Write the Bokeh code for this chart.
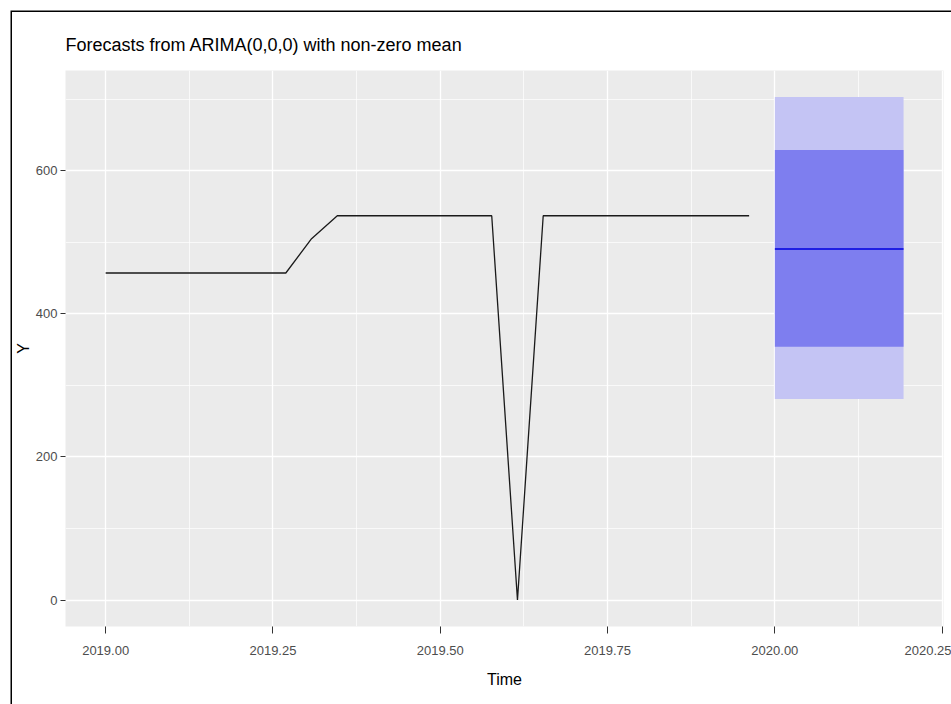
from bokeh.plotting import figure
from bokeh.models import FixedTicker, ColumnDataSource
from bokeh.embed import file_html
from bokeh.resources import INLINE

# ---- data ----
start = 2019.0
freq = 26
values = [457, 457, 457, 457, 457, 457, 457, 457, 505, 537, 537, 537, 537, 537,
          537, 537, 0, 537, 537, 537, 537, 537, 537, 537, 537, 537]
fc_start = 2020.0
fc_mean = [490.5, 490.5, 490.5, 490.5, 490.5, 490.5]
fc_lo80 = [354, 354, 354, 354, 354, 354]
fc_hi80 = [629, 629, 629, 629, 629, 629]
fc_lo95 = [281, 281, 281, 281, 281, 281]
fc_hi95 = [703, 703, 703, 703, 703, 703]

x_ticks = [2019.00, 2019.25, 2019.50, 2019.75, 2020.00, 2020.25]
x_tick_labels = ["2019.00", "2019.25", "2019.50", "2019.75", "2020.00", "2020.25"]
x_minor = [2019.125, 2019.375, 2019.625, 2019.875, 2020.125]
y_ticks = [0, 200, 400, 600]
y_tick_labels = ["0", "200", "400", "600"]
y_minor = [100, 300, 500, 700]

title = "Forecasts from ARIMA(0,0,0) with non-zero mean"
x_label = "Time"
y_label = "Y"

time = [start + i / freq for i in range(len(values))]
fc_time = [fc_start + i / freq for i in range(len(fc_mean))]

FONT = "Liberation Sans"

p = figure(width=951, height=704, output_backend="svg", toolbar_location=None,
           x_range=(2018.94, 2020.252), y_range=(-37, 740),
           min_border_left=65, min_border_right=8, min_border_top=70, min_border_bottom=78,
           title=title)

p.background_fill_color = "#EBEBEB"
p.border_fill_color = None
p.outline_line_color = None
# thin frame line of the original image (left and top edges only visible)
p.styles = {"box-shadow": "inset 10.5px 10.5px 0 0 #ffffff, inset 12px 12px 0 0 #000000",
            "background-color": "#ffffff"}

p.title.text_font = FONT
p.title.text_font_size = "18px"
p.title.text_font_style = "normal"
p.title.text_color = "black"
p.title.align = "left"
p.title.standoff = 32

# ticks
p.xaxis.ticker = FixedTicker(ticks=x_ticks, minor_ticks=x_minor)
p.xaxis.major_label_overrides = {t: l for t, l in zip(x_ticks, x_tick_labels)}
p.yaxis.ticker = FixedTicker(ticks=y_ticks, minor_ticks=y_minor)
p.yaxis.major_label_overrides = {t: l for t, l in zip(y_ticks, y_tick_labels)}

for ax in (p.xaxis, p.yaxis):
    ax.axis_line_color = None
    ax.minor_tick_line_color = None
    ax.major_tick_line_color = "#333333"
    ax.major_tick_in = 0
    ax.major_label_text_font = FONT
    ax.major_label_text_font_size = "13px"
    ax.major_label_text_color = "#4D4D4D"
    ax.axis_label_text_font = FONT
    ax.axis_label_text_font_style = "normal"
    ax.axis_label_text_color = "black"
    ax.axis_label_text_font_size = "16px"

p.xaxis.major_tick_out = 7
p.xaxis.major_label_standoff = 12
p.xaxis.axis_label = x_label
p.xaxis.axis_label_standoff = 13
p.yaxis.major_tick_out = 5
p.yaxis.major_label_standoff = 3
p.yaxis.axis_label = y_label
p.yaxis.axis_label_standoff = 1

for g in (p.xgrid, p.ygrid):
    g.grid_line_color = "white"
    g.grid_line_width = 1.3
    g.minor_grid_line_color = "white"
    g.minor_grid_line_width = 0.7

# forecast intervals
fsrc = ColumnDataSource(dict(t=fc_time, mean=fc_mean, lo80=fc_lo80, hi80=fc_hi80,
                             lo95=fc_lo95, hi95=fc_hi95))
p.varea(x="t", y1="lo95", y2="hi95", source=fsrc, fill_color="#C4C4F4", fill_alpha=1)
p.varea(x="t", y1="lo80", y2="hi80", source=fsrc, fill_color="#7E7EEF", fill_alpha=1)
p.line(x="t", y="mean", source=fsrc, line_color="#0000E0", line_width=1.6)

# observed series
p.line(time, values, line_color="#1A1A1A", line_width=1.3)

open("out.html", "w").write(file_html(p, INLINE))
